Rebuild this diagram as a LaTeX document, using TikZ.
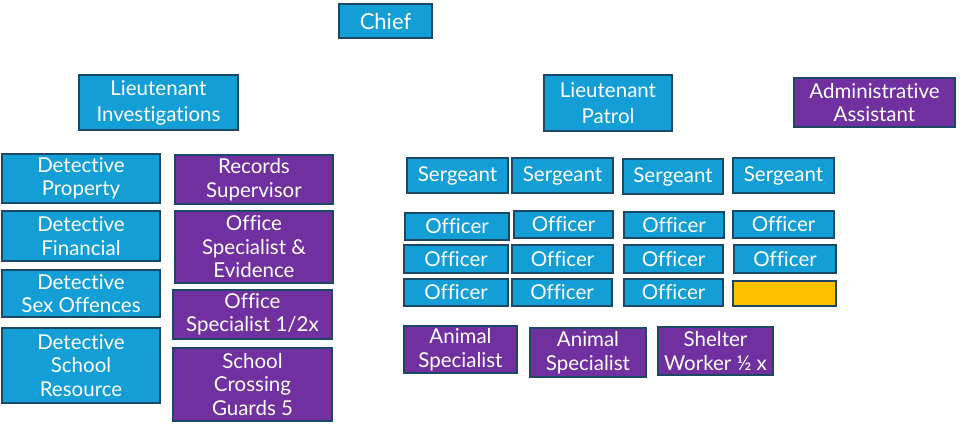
\documentclass[tikz,border=0pt]{standalone}
\usepackage{fontspec}
\setmainfont{Lato}[Ligatures={NoCommon,NoRare}]
\definecolor{boxblue}{HTML}{139ED6}
\definecolor{boxpurple}{HTML}{7030A0}
\definecolor{boxline}{HTML}{1C4866}
\definecolor{boxgold}{HTML}{FFC000}
\begin{document}
\begin{tikzpicture}[x=1pt,y=-1pt,
  box/.style={draw=boxline, line width=1.5pt, inner sep=0pt, align=center,
    text=white, font=\fontsize{20.5}{23.5}\selectfont},
  role/.style={box, fill=boxblue},
  staff/.style={box, fill=boxpurple},
  vacant/.style={box, fill=boxgold},
  wide/.style={font=\fontsize{20.5}{26}\selectfont},
  sz/.style 2 args={minimum width=#1pt, minimum height=#2pt}]
\useasboundingbox (0,0) rectangle (964,424);

% command
\node[role, sz={93}{34}, font=\fontsize{22}{24}\selectfont] (chief) at (385.5,21) {Chief};
\node[role, wide, sz={159}{55}] (ltinv) at (158.5,102.5) {Lieutenant\\Investigations};
\node[role, wide, sz={128}{56}] (ltpat) at (608,103) {Lieutenant\\Patrol};
\node[staff, sz={161}{49}] (admin) at (874.5,102.5) {Administrative\\Assistant};

% investigations
\node[role, sz={158}{49}] (detprop) at (81,178.5) {Detective\\Property};
\node[role, sz={158}{50}] (detfin) at (81,236) {Detective\\Financial};
\node[role, sz={158}{47}] (detsex) at (81,293.5) {Detective\\Sex Offences};
\node[role, sz={158}{75}] (detsch) at (81,365.5) {Detective\\School\\Resource};

\node[staff, sz={158}{49}] (records) at (254,179.5) {Records\\Supervisor};
\node[staff, sz={158}{72}] (offev) at (254,247) {Office\\Specialist \&\\Evidence};
\node[staff, sz={159}{49}] (offhalf) at (252.5,314.5) {Office\\Specialist 1/2x};
\node[staff, sz={159}{73}] (guards) at (252.5,384.5) {School\\Crossing\\Guards 5};

% patrol
\node[role, sz={101}{35}] (sgt1) at (457.5,175.5) {Sergeant};
\node[role, sz={101}{35}] (sgt2) at (562.5,175.5) {Sergeant};
\node[role, sz={100}{35}] (sgt3) at (673,176.5) {Sergeant};
\node[role, sz={101}{35}] (sgt4) at (783.5,175.5) {Sergeant};

\node[role, sz={104}{27}] (off11) at (457,226.5) {Officer};
\node[role, sz={99}{27}]  (off12) at (563.5,224.5) {Officer};
\node[role, sz={100}{26}] (off13) at (674,225) {Officer};
\node[role, sz={101}{27}] (off14) at (783.5,224.5) {Officer};

\node[role, sz={104}{28}] (off21) at (456,259) {Officer};
\node[role, sz={101}{28}] (off22) at (562.5,259) {Officer};
\node[role, sz={99}{28}]  (off23) at (673.5,259) {Officer};
\node[role, sz={102}{28}] (off24) at (785,259) {Officer};

\node[role, sz={104}{27}] (off31) at (456,292.5) {Officer};
\node[role, sz={100}{27}] (off32) at (562,292.5) {Officer};
\node[role, sz={99}{27}]  (off33) at (673.5,292.5) {Officer};
\node[vacant, sz={103}{25}] (open) at (784.5,293.5) {};

\node[staff, sz={113}{47}] (animal1) at (460.5,349.5) {Animal\\Specialist};
\node[staff, sz={116}{49}] (animal2) at (588,352.5) {Animal\\Specialist};
\node[staff, sz={115}{48}] (shelter) at (715.5,351) {Shelter\\Worker ½ x};
\end{tikzpicture}
\end{document}
